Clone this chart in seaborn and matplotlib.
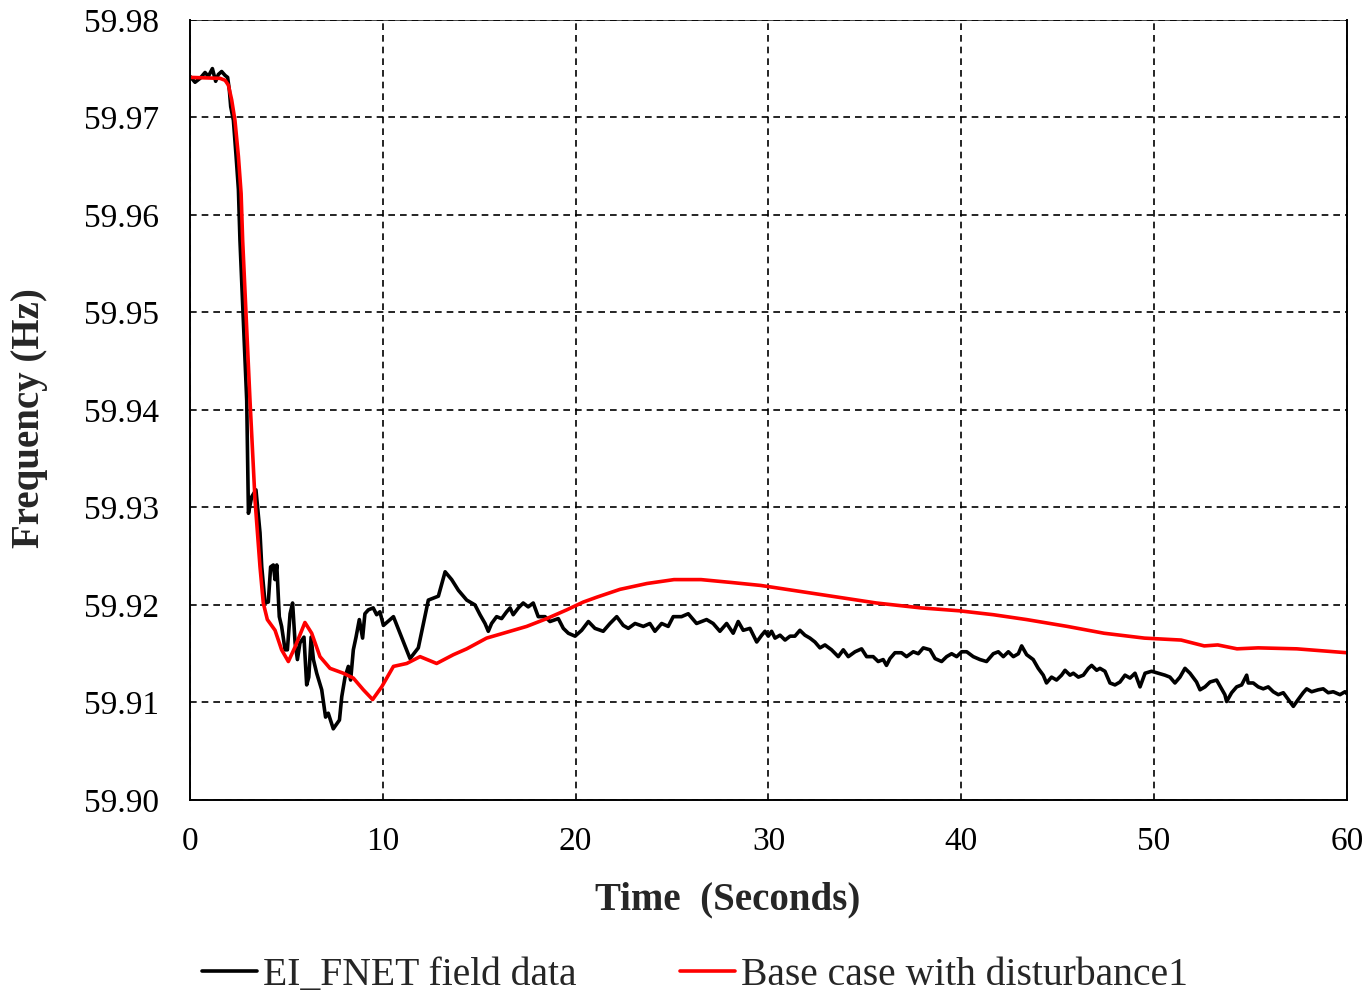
import numpy as np
import pandas as pd
import matplotlib
matplotlib.use("Agg")
import matplotlib.pyplot as plt
import seaborn as sns

# Measured frequency (EI FNET field data)
fnet_time = [
    0, 0.26, 0.52, 0.78, 0.95, 1.16, 1.33, 1.47, 1.64, 1.82, 1.95, 2.04, 2.11, 2.25, 2.39, 2.51, 2.59,
    2.94, 3.03, 3.2, 3.42, 3.63, 3.72, 3.89, 4.06, 4.18, 4.32, 4.41, 4.5, 4.63, 4.75, 4.93, 5.05,
    5.19, 5.32, 5.45, 5.57, 5.7, 5.91, 6.05, 6.16, 6.28, 6.4, 6.57, 6.83, 7.03, 7.17, 7.43, 7.75,
    7.87, 8.04, 8.21, 8.33, 8.47, 8.61, 8.78, 8.95, 9.07, 9.25, 9.5, 9.68, 9.85, 10.03, 10.55,
    10.89, 11.41, 11.84, 12.36, 12.88, 13.23, 13.57, 13.92, 14.35, 14.78, 15.04, 15.3, 15.47,
    15.64, 15.9, 16.16, 16.42, 16.6, 16.76, 17.03, 17.28, 17.54, 17.8, 18.06, 18.41, 18.67, 19.1,
    19.36, 19.62, 19.97, 20.31, 20.66, 21.0, 21.43, 21.78, 22.13, 22.47, 22.73, 23.08, 23.51,
    23.85, 24.11, 24.46, 24.8, 25.06, 25.49, 25.84, 26.27, 26.79, 27.13, 27.48, 27.83, 28.17,
    28.43, 28.69, 29.04, 29.39, 29.65, 29.82, 29.99, 30.16, 30.34, 30.6, 30.86, 31.12, 31.37,
    31.63, 31.89, 32.15, 32.41, 32.67, 32.93, 33.27, 33.62, 33.88, 34.14, 34.49, 34.83, 35.09,
    35.43, 35.69, 35.95, 36.12, 36.3, 36.56, 36.9, 37.16, 37.51, 37.77, 38.03, 38.38, 38.64,
    38.98, 39.24, 39.5, 39.76, 40.02, 40.28, 40.62, 40.97, 41.31, 41.66, 41.92, 42.18, 42.44,
    42.7, 42.96, 43.13, 43.39, 43.73, 43.99, 44.25, 44.42, 44.68, 44.94, 45.2, 45.38, 45.64,
    45.81, 46.07, 46.33, 46.59, 46.76, 47.02, 47.19, 47.45, 47.71, 47.97, 48.23, 48.49, 48.75,
    49.01, 49.27, 49.53, 49.87, 50.21, 50.56, 50.82, 51.08, 51.34, 51.6, 51.86, 52.2, 52.38,
    52.64, 52.9, 53.24, 53.5, 53.67, 53.76, 54.02, 54.28, 54.54, 54.8, 54.88, 55.14, 55.4,
    55.66, 55.92, 56.18, 56.44, 56.7, 56.96, 57.22, 57.47, 57.73, 57.91, 58.17, 58.51, 58.77,
    59.03, 59.29, 59.64, 59.9, 60.0,
]
fnet_freq = [
    59.9742, 59.9736, 59.9740, 59.9746, 59.9742, 59.9750, 59.9737, 59.9744, 59.9747, 59.9743,
    59.9741, 59.9728, 59.9711, 59.9697, 59.9660, 59.9626, 59.9574,
    59.9410, 59.9294, 59.9311, 59.9318, 59.9274, 59.9239, 59.9202, 59.9203, 59.9239, 59.9241,
    59.9226, 59.9241, 59.9188, 59.9178, 59.9154, 59.9154, 59.9191, 59.9202, 59.9161, 59.9144,
    59.9161, 59.9167, 59.9118, 59.9126, 59.9167, 59.9144, 59.9130, 59.9113, 59.9085, 59.9089,
    59.9073, 59.9082, 59.9106, 59.9126, 59.9137, 59.9123, 59.9154, 59.9167, 59.9185, 59.9166,
    59.9191, 59.9195, 59.9197, 59.9190, 59.9193, 59.9179, 59.9188, 59.9171, 59.9145, 59.9156,
    59.9205, 59.9209, 59.9234, 59.9226, 59.9215, 59.9205, 59.9200, 59.9190, 59.9181, 59.9173,
    59.9181, 59.9188, 59.9186, 59.9193, 59.9197, 59.9190, 59.9197, 59.9202, 59.9198, 59.9202,
    59.9188, 59.9188, 59.9183, 59.9186, 59.9176, 59.9171, 59.9168, 59.9174, 59.9183, 59.9176,
    59.9173, 59.9181, 59.9188, 59.9179, 59.9176, 59.9181, 59.9178, 59.9181, 59.9173, 59.9181,
    59.9178, 59.9188, 59.9188, 59.9191, 59.9181, 59.9185, 59.9181, 59.9173, 59.9181, 59.9171,
    59.9183, 59.9174, 59.9176, 59.9162, 59.9169, 59.9173, 59.9168, 59.9173, 59.9166, 59.9169,
    59.9164, 59.9168, 59.9168, 59.9174, 59.9169, 59.9166, 59.9162, 59.9156, 59.9159, 59.9154,
    59.9147, 59.9154, 59.9147, 59.9152, 59.9155, 59.9147, 59.9147, 59.9142, 59.9144, 59.9138,
    59.9145, 59.9151, 59.9151, 59.9147, 59.9152, 59.9150, 59.9156, 59.9154, 59.9145, 59.9142,
    59.9147, 59.9150, 59.9147, 59.9152, 59.9152, 59.9147, 59.9144, 59.9142, 59.9150, 59.9152,
    59.9147, 59.9152, 59.9147, 59.9150, 59.9158, 59.9149, 59.9144, 59.9135, 59.9128, 59.9120,
    59.9126, 59.9123, 59.9128, 59.9133, 59.9128, 59.9130, 59.9126, 59.9128, 59.9135, 59.9138,
    59.9133, 59.9135, 59.9132, 59.9120, 59.9118, 59.9121, 59.9128, 59.9125, 59.9130, 59.9116,
    59.9130, 59.9132, 59.9130, 59.9128, 59.9126, 59.9120, 59.9126, 59.9135, 59.9130, 59.9121,
    59.9113, 59.9116, 59.9121, 59.9123, 59.9114, 59.9108, 59.9101, 59.9110, 59.9116, 59.9118,
    59.9128, 59.9120, 59.9120, 59.9116, 59.9114, 59.9116, 59.9111, 59.9108, 59.9110, 59.9103,
    59.9096, 59.9103, 59.9110, 59.9114, 59.9111, 59.9113, 59.9114, 59.9110, 59.9111, 59.9108,
    59.9111, 59.9109,
]

# Simulated frequency (base case with disturbance1)
sim_time = [
    0, 1.56, 1.82, 1.99, 2.16, 2.33, 2.51, 2.65, 2.73, 3.11, 3.37, 3.63, 3.8, 4.01, 4.41, 4.75,
    5.1, 5.45, 5.96, 6.31, 6.74, 7.26, 7.95, 8.47, 8.99, 9.47, 9.94, 10.55, 11.24, 11.93, 12.79,
    13.66, 14.35, 15.38, 16.25, 17.46, 18.5, 19.54, 20.4, 21.1, 22.3, 23.7, 25.1, 26.5, 28.1,
    29.6, 31.6, 33.6, 35.6, 37.9, 39.9, 41.66, 43.39, 45.5, 47.4, 49.5, 51.4, 52.6, 53.3, 54.3,
    55.4, 57.4, 60.0,
]
sim_freq = [
    59.9741, 59.9740, 59.9738, 59.9733, 59.9718, 59.9697, 59.9660, 59.9622, 59.9574, 59.9410,
    59.9308, 59.9239, 59.9202, 59.9185, 59.9174, 59.9154, 59.9142, 59.9157, 59.9182, 59.9171,
    59.9147, 59.9135, 59.9130, 59.9125, 59.9113, 59.9103, 59.9116, 59.9137, 59.9140, 59.9147,
    59.9140, 59.9149, 59.9155, 59.9166, 59.9171, 59.9178, 59.9186, 59.9195, 59.9203, 59.9208,
    59.9216, 59.9222, 59.9226, 59.9226, 59.9223, 59.9220, 59.9214, 59.9208, 59.9202, 59.9197,
    59.9194, 59.9190, 59.9185, 59.9178, 59.9171, 59.9166, 59.9164, 59.9158, 59.9159, 59.9155,
    59.9156, 59.9155, 59.9151,
]

series_labels = ["EI_FNET field data", "Base case with disturbance1"]
x_ticks = [0, 10, 20, 30, 40, 50, 60]
y_ticks = [59.90, 59.91, 59.92, 59.93, 59.94, 59.95, 59.96, 59.97, 59.98]

df = pd.concat([
    pd.DataFrame({"Time": fnet_time, "Frequency": fnet_freq, "Series": series_labels[0]}),
    pd.DataFrame({"Time": sim_time, "Frequency": sim_freq, "Series": series_labels[1]}),
], ignore_index=True)

sns.set_style("white")
plt.rcParams["font.family"] = ["Liberation Serif", "DejaVu Serif"]

fig = plt.figure(figsize=(13.68, 9.97), dpi=100)
ax = fig.add_axes([0.1389, 0.1976, 0.8457, 0.7825])

sns.lineplot(data=df, x="Time", y="Frequency", hue="Series",
             palette={series_labels[0]: "black", series_labels[1]: "#ff0000"},
             linewidth=2.6, estimator=None, sort=False, ax=ax, legend=False)

ax.set_xlim(0, 60)
ax.set_ylim(59.90, 59.98)
ax.set_xticks(x_ticks)
ax.set_yticks(y_ticks)
ax.set_xticklabels([str(v) for v in x_ticks], fontsize=24)
ax.set_yticklabels([f"{v:.2f}" for v in y_ticks], fontsize=24)

ax.grid(True, color="black", linestyle=(0, (4, 3)), linewidth=1.2)
ax.set_axisbelow(True)

ax.tick_params(axis="x", direction="in", length=8, width=1, pad=19, colors="black")
ax.tick_params(axis="y", direction="in", length=0, pad=22, colors="black")

for side in ["left", "bottom", "right"]:
    ax.spines[side].set_color("black")
    ax.spines[side].set_linewidth(1.4)
ax.spines["top"].set_color("black")
ax.spines["top"].set_linewidth(0.5)

ax.set_xlabel("Time  (Seconds)", fontsize=28, fontweight="bold")
ax.xaxis.set_label_coords(0.465, -0.105)
ax.set_ylabel("Frequency (Hz)", fontsize=28, fontweight="bold")
ax.yaxis.set_label_coords(-0.123, 0.49)

handles = [plt.Line2D([], [], color="black", linewidth=2.6),
           plt.Line2D([], [], color="#ff0000", linewidth=2.6)]
fig.legend(handles, series_labels, loc="center", bbox_to_anchor=(0.508, 0.022),
           ncol=2, frameon=False, fontsize=28.5, handlelength=1.4,
           handletextpad=0.15, columnspacing=2.6)

fig.savefig("out.png", dpi=100)
